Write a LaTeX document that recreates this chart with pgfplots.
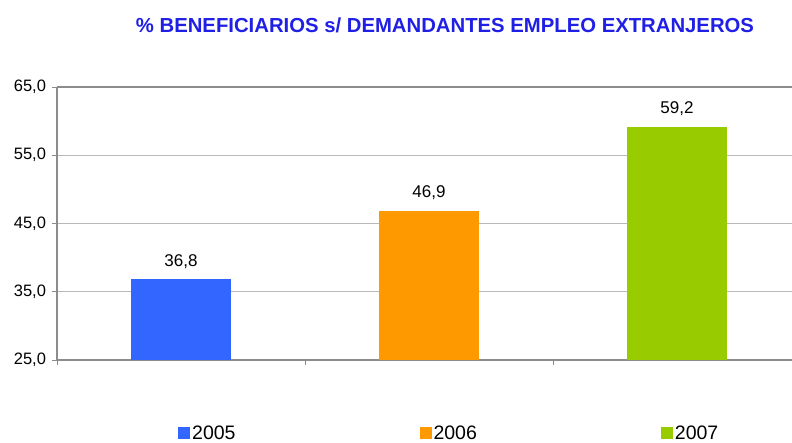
\documentclass[border=0pt]{standalone}
\usepackage{pgfplots}
\pgfplotsset{compat=1.18}
\usepackage{fontspec}
\setmainfont{Liberation Sans}
\definecolor{c05}{HTML}{3366FF}
\definecolor{c06}{HTML}{FF9900}
\definecolor{c07}{HTML}{99CC00}
\definecolor{gridgray}{HTML}{B8B8B8}
\definecolor{axisgray}{HTML}{8C8C8C}
\definecolor{titleblue}{HTML}{1F1FE6}
\begin{document}
\begin{tikzpicture}[x=1pt,y=1pt]
\useasboundingbox (0,0) rectangle (792,442);
\node[font=\bfseries\fontsize{20.3}{24}\selectfont, text=titleblue] at (445,417) {\% BENEFICIARIOS s/ DEMANDANTES EMPLEO EXTRANJEROS};
\begin{axis}[
  at={(57pt,82pt)}, anchor=south west, scale only axis,
  width=744pt, height=273pt,
  xmin=-0.5, xmax=2.5, ymin=25, ymax=65,
  ytick={25,35,45,55,65},
  xtick={-0.5,0.5,1.5,2.5}, xticklabels={},
  /pgf/number format/assume math mode=true,
  yticklabel style={font=\fontsize{16.5}{18}\selectfont, xshift=-2.5pt, /pgf/number format/.cd, fixed, fixed zerofill, precision=1, use comma},
  ymajorgrids, grid style={color=gridgray, line width=0.9pt},
  axis x line*=bottom, axis y line*=left,
  axis line style={color=axisgray, line width=1.3pt},
  tick style={color=axisgray, line width=0.9pt}, tick align=outside, major tick length=5pt,
  ybar, bar width=100pt, bar shift=0pt,
  nodes near coords={\pgfmathprintnumber[fixed,fixed zerofill,precision=1,use comma,assume math mode=true]{\pgfplotspointmeta}},
  every node near coord/.append style={font=\fontsize{17}{19}\selectfont, text=black, yshift=7pt},
  legend columns=3,
  legend image code/.code={\fill[#1] (0pt,-6pt) rectangle (12pt,6pt);},
  legend style={draw=none, fill=none, at={(0.1626,-0.2674)}, anchor=west, inner sep=0pt,
    font=\fontsize{19.5}{21}\selectfont,
    /tikz/every even column/.append style={column sep=182pt}},
]
\addplot[fill=c05, draw=none] coordinates {(0,36.8)};
\addplot[fill=c06, draw=none] coordinates {(1,46.9)};
\addplot[fill=c07, draw=none] coordinates {(2,59.2)};
\legend{2005,2006,2007}
\draw[axisgray, line width=1.3pt] (rel axis cs:0,1) -- (rel axis cs:1,1);
\end{axis}
\end{tikzpicture}
\end{document}
